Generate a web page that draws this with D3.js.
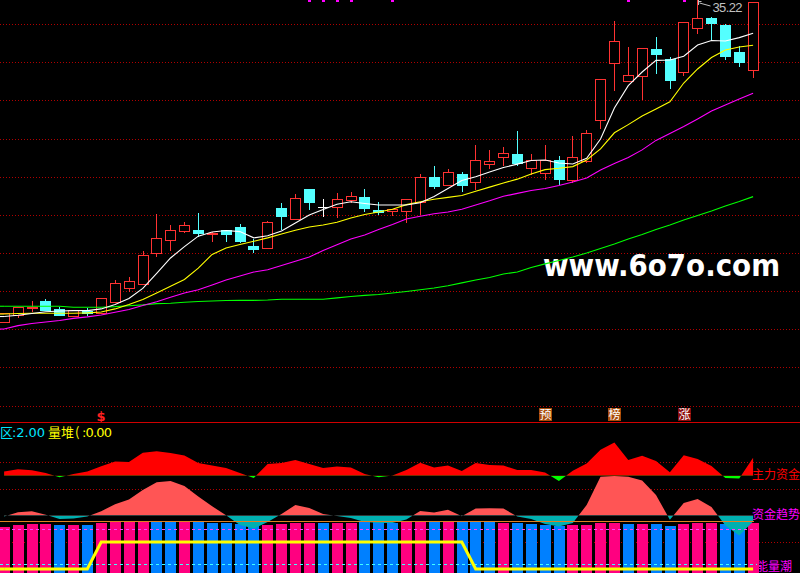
<!DOCTYPE html>
<html><head><meta charset="utf-8">
<script src="https://cdn.jsdelivr.net/npm/d3@7"></script>
<style>html,body{margin:0;padding:0;background:#000;overflow:hidden}svg{display:block}</style>
</head><body><svg id="c" width="800" height="573"></svg>
<script>
// ---------- DATA ----------
const opens  = [18.29,18.64,19.01,19.38,18.96,18.60,18.85,18.73,19.34,20.08,20.26,21.89,22.60,23.08,23.11,22.89,23.11,23.27,22.27,22.18,24.27,23.68,25.27,24.31,24.31,24.69,24.85,24.15,24.13,24.13,24.60,25.89,25.50,26.06,25.66,26.60,26.94,27.11,26.39,26.10,26.80,25.75,26.75,28.89,31.89,30.94,31.24,32.64,32.10,31.41,33.73,34.26,33.90,32.48,31.52];
const highs  = [18.73,19.05,19.38,19.47,19.08,18.90,18.99,19.52,20.48,20.63,22.01,23.96,23.38,23.52,24.03,23.00,23.11,23.43,22.64,23.59,24.55,25.01,25.27,24.75,25.08,25.11,25.27,24.59,24.24,24.73,26.06,26.48,26.31,26.17,27.59,27.33,27.48,28.33,27.11,27.59,27.01,28.06,28.38,31.05,34.11,32.75,32.68,33.27,32.20,34.05,35.22,34.34,33.96,32.80,35.10];
const lows   = [18.29,18.47,18.78,18.87,18.60,18.60,18.59,18.68,19.34,19.87,20.26,21.71,22.03,22.94,22.73,22.50,22.50,22.43,21.92,22.18,23.11,23.68,24.17,23.81,23.73,24.52,24.08,23.90,23.87,23.50,23.90,25.29,25.50,25.11,25.22,26.33,26.48,26.48,26.03,25.75,25.48,25.57,26.64,28.45,30.45,30.94,29.96,31.34,30.55,31.24,33.41,33.05,32.06,31.71,31.13];
const closes = [18.73,19.05,19.08,18.87,18.60,18.90,18.69,19.52,20.31,20.41,21.78,22.68,23.10,23.36,22.90,22.96,22.85,22.50,22.06,23.54,23.81,24.78,24.55,24.31,24.73,24.90,24.22,24.03,24.20,24.73,25.89,25.39,26.15,25.43,26.80,26.75,27.17,26.59,26.80,26.80,25.75,26.94,28.20,31.05,33.05,31.26,32.68,32.34,30.97,34.05,34.26,33.97,32.24,31.92,35.10];

const ma5  = [18.56,18.63,18.72,18.81,18.85,18.87,18.87,18.96,19.19,19.51,20.04,20.83,21.64,22.24,22.79,23.01,23.09,23.03,22.70,22.81,23.06,23.48,23.90,24.19,24.47,24.60,24.51,24.43,24.43,24.43,24.55,24.88,25.30,25.72,25.92,26.17,26.40,26.58,26.77,26.80,26.64,26.59,26.89,27.90,29.54,30.71,31.43,32.04,32.06,32.26,32.85,33.09,33.06,33.24,33.47];
const ma10 = [18.69,18.72,18.73,18.73,18.73,18.73,18.75,18.80,18.96,19.19,19.46,19.80,20.15,20.51,21.11,21.83,22.17,22.35,22.52,22.70,22.90,23.10,23.27,23.38,23.52,23.75,23.93,24.06,24.21,24.45,24.60,24.73,24.83,24.93,25.15,25.37,25.59,25.79,26.06,26.29,26.36,26.45,26.80,27.38,28.23,28.66,29.11,29.48,29.86,30.85,31.59,32.19,32.59,32.75,32.84];
const ma20 = [17.90,18.08,18.19,18.27,18.35,18.46,18.54,18.64,18.78,18.93,19.14,19.34,19.57,19.80,19.97,20.22,20.48,20.69,20.90,21.02,21.25,21.47,21.69,22.04,22.34,22.64,22.85,23.14,23.40,23.69,23.84,23.97,24.06,24.21,24.43,24.65,24.89,25.04,25.19,25.30,25.46,25.64,25.85,26.27,26.61,26.93,27.33,27.83,28.19,28.56,28.96,29.38,29.69,30.01,30.31];
const ma60 = [19.10,19.10,19.10,19.10,19.10,19.05,19.05,19.05,19.08,19.13,19.17,19.24,19.26,19.31,19.35,19.38,19.40,19.41,19.41,19.43,19.47,19.47,19.47,19.47,19.54,19.61,19.67,19.72,19.80,19.88,19.97,20.06,20.18,20.33,20.48,20.61,20.80,20.90,21.14,21.33,21.51,21.69,21.90,22.14,22.38,22.64,22.88,23.14,23.38,23.64,23.88,24.11,24.38,24.61,24.87];

const gridPrices = [33.94,31.94,29.94,27.89,25.89,23.89,21.89,19.89,17.89,15.89,13.87];
const highLabel = "35.22";
const topMarks = [22,23,24,25,28,45,49];
const signalIdx  = [7,39,44,49];
const signalText = ["$","预","榜","涨"];

const mainFund  = [4.2,6.4,5.4,2.7,-1.6,1.7,4.2,9.4,14.2,13.7,22.9,24.4,22.7,20.2,12.7,10.1,7.7,2.7,-2.3,11.7,12.7,15.7,11.7,7.7,9.2,8.2,1.7,-1.6,0.2,5.7,13,8.2,10.2,4.7,12.7,10.7,10.2,5.7,5.7,3.2,-5.3,4.9,12.2,26,33.1,15.7,19.9,14.7,3.4,20.5,16.7,9.7,-2.3,-2.8,18];
const fundTrend = [-1,3.3,4.2,0.8,-3.5,-3,-1,4.3,11.3,16,25.5,33.2,34.5,29.5,18.9,9.2,0.3,-9.5,-13,-6.5,1.5,10.5,7.5,1.5,-0.5,-2.5,-6.5,-7.5,-7.5,-4,4.5,3,5.7,-0.7,7,7.2,6.9,-1,-3.5,-8.5,-11,-7.5,10.5,38.8,39.5,38.7,35,20.5,-4.3,12.5,16.5,8.5,-10,-20,-6];
const energy    = [45.7,48,49,49,48,48,48,50.3,51.3,51.3,51.3,51.3,51.3,51.3,51.3,50.3,50.3,49,47.3,48,49,49.7,50.3,50.3,50.3,50.3,51.3,51.3,50.3,51.3,51.3,51.3,51.3,51.3,51.3,51.3,50.3,49.7,49,48,47,48,48,49.7,50.3,49,49,49,47,49,49.7,50.3,49,48,49.7];
const energyUp  = [1,1,1,1,0,1,0,1,1,1,1,0,0,1,0,0,0,0,0,1,1,1,1,0,1,1,0,0,0,1,1,0,1,0,0,0,1,0,0,0,0,1,1,1,1,0,1,0,0,1,1,1,0,0,1];
const tideLine  = [0,0,0,0,0,0,0,1,1,1,1,1,1,1,1,1,1,1,1,1,1,1,1,1,1,1,1,1,1,1,1,1,1,1,0,0,0,0,0,0,0,0,0,0,0,0,0,0,0,0,0,0,0,0,0];
const titleParts = ["区",":2.00","量堆","(",":0.00"];
const rightLabels = ["主力资金","资金趋势","能量潮"];
const watermark = "www.6o7o.com";

// ---------- SCALES ----------
const svg = d3.select("#c");
const W = 800, H = 573;
const idx = d3.range(opens.length);
const x = d3.scaleLinear().domain([0, 54]).range([4.1, 753.1]);
const yP = d3.scaleLinear().domain([17.85, 35.22]).range([330, 0]);
const yMF = d3.scaleLinear().domain([0, 40]).range([475.7, 435.7]);
const yFT = d3.scaleLinear().domain([0, 40]).range([515.5, 475.5]);
const yEN = d3.scaleLinear().domain([0, 60]).range([573, 513]);
const yTide = d3.scaleLinear().domain([0, 1]).range([569, 542]);
const px = v => Math.round(v) + 0.5;

svg.append("rect").attr("width", W).attr("height", H).attr("fill", "#000");

// ---------- MAIN PANEL ----------
const grid = svg.append("g").attr("shape-rendering", "crispEdges");
grid.selectAll("line").data(gridPrices).join("line")
  .attr("x1", 0).attr("x2", W)
  .attr("y1", d => px(yP(d))).attr("y2", d => px(yP(d)))
  .attr("stroke", "#b00000").attr("stroke-dasharray", "1,2");

// watermark
svg.append("text").attr("x", 543).attr("y", 276)
  .attr("font-family", "DejaVu Sans").attr("font-weight", "bold").attr("font-size", 30)
  .attr("fill", "#fff").attr("textLength", 237).attr("lengthAdjust", "spacingAndGlyphs")
  .text(watermark);

// candles
const cg = svg.append("g").attr("shape-rendering", "crispEdges");
const bw = 10;
idx.forEach(i => {
  const cx = x(i), o = opens[i], c = closes[i], h = highs[i], l = lows[i];
  const left = Math.round(cx - 5.3);
  const wx = left + 5.5;
  const top = Math.round(yP(Math.max(o, c))), bot = Math.round(yP(Math.min(o, c)));
  if (c > o) {
    const col = "#ff3232";
    cg.append("line").attr("x1", wx).attr("x2", wx).attr("y1", yP(h)).attr("y2", top).attr("stroke", col);
    cg.append("line").attr("x1", wx).attr("x2", wx).attr("y1", bot).attr("y2", yP(l)).attr("stroke", col);
    cg.append("rect").attr("x", left + 0.5).attr("y", top + 0.5).attr("width", bw)
      .attr("height", Math.max(1, bot - top)).attr("fill", "#000").attr("stroke", col);
  } else if (c < o) {
    const col = "#54ffff";
    cg.append("line").attr("x1", wx).attr("x2", wx).attr("y1", yP(h)).attr("y2", yP(l)).attr("stroke", col);
    cg.append("rect").attr("x", left).attr("y", top).attr("width", bw + 1)
      .attr("height", Math.max(2, bot - top)).attr("fill", col);
  } else {
    const col = "#ffffff";
    cg.append("line").attr("x1", wx).attr("x2", wx).attr("y1", yP(h)).attr("y2", yP(l)).attr("stroke", col);
    cg.append("line").attr("x1", left).attr("x2", left + bw + 1).attr("y1", px(yP(c))).attr("y2", px(yP(c))).attr("stroke", col);
  }
});

// moving averages
const maLine = arr => d3.line().x(i => x(i)).y(i => yP(arr[i]))(idx);
[[ma60, "#00ff00"], [ma20, "#ff00ff"], [ma10, "#ffff00"], [ma5, "#ffffff"]].forEach(([arr, col]) => {
  svg.append("path").attr("d", maLine(arr)).attr("fill", "none").attr("stroke", col)
    .attr("stroke-width", 1.1);
  svg.append("line").attr("x1", 0).attr("x2", x(0)).attr("y1", yP(arr[0])).attr("y2", yP(arr[0]))
    .attr("stroke", col).attr("stroke-width", 1.1);
});

// top marks
svg.append("g").selectAll("rect").data(topMarks).join("rect")
  .attr("x", i => Math.round(x(i)) - 1).attr("y", 0).attr("width", 3).attr("height", 2)
  .attr("fill", "#ff00ff");

// high label
const hi = d3.maxIndex(highs);
const hx = Math.round(x(hi)) + 0.5;
svg.append("path").attr("d", `M${hx},${yP(highs[hi])}V5M${hx},1.5H${hx + 3}M${hx + 1},3L${hx + 12},6`)
  .attr("stroke", "#c0c0c0").attr("fill", "none");
svg.append("text").attr("x", hx + 14).attr("y", 11.5).attr("font-family", "Liberation Sans")
  .attr("font-size", 13).attr("fill", "#c0c0c0").attr("textLength", 30).text(highLabel);

// signals
signalIdx.forEach((i, k) => {
  const cx = Math.round(x(i));
  const t = signalText[k];
  if (t === "$") {
    svg.append("text").attr("x", cx).attr("y", 421).attr("text-anchor", "middle")
      .attr("font-family", "DejaVu Sans").attr("font-weight", "bold").attr("font-size", 13)
      .attr("fill", "#ff2020").text(t);
  } else {
    svg.append("rect").attr("x", cx - 6).attr("y", 408).attr("width", 13).attr("height", 13)
      .attr("fill", t === "涨" ? "#8a0c0c" : "#a84a08");
    svg.append("text").attr("x", cx + 0.5).attr("y", 419).attr("text-anchor", "middle")
      .attr("font-family", "Noto Sans CJK SC").attr("font-size", 12).attr("fill", "#fff").text(t);
  }
});

// separator
svg.append("line").attr("x1", 0).attr("x2", W).attr("y1", 422.5).attr("y2", 422.5)
  .attr("stroke", "#d00000").attr("shape-rendering", "crispEdges");

// title
const tf = "Noto Sans CJK SC";
const title = svg.append("g").attr("font-size", 13);
title.append("text").attr("x", 0).attr("y", 437).attr("font-family", tf).attr("fill", "#00e8ff").text(titleParts[0]);
title.append("text").attr("x", 12).attr("y", 437).attr("font-family", "DejaVu Sans").attr("fill", "#00e8ff").attr("textLength", 33).text(titleParts[1]);
title.append("text").attr("x", 48).attr("y", 437).attr("font-family", tf).attr("fill", "#ffff00").text(titleParts[2]);
title.append("text").attr("x", 75).attr("y", 437).attr("font-family", tf).attr("fill", "#ffff00").text(titleParts[3]);
title.append("text").attr("x", 82).attr("y", 437).attr("font-family", "DejaVu Sans").attr("fill", "#ffff00").attr("textLength", 30).text(titleParts[4]);

// ---------- LOWER PANEL ----------
const lg = svg.append("g").attr("shape-rendering", "crispEdges");
[462, 489, 542].forEach(yy => lg.append("line").attr("x1", 0).attr("x2", W)
  .attr("y1", yy + 0.5).attr("y2", yy + 0.5).attr("stroke", "#b00000").attr("stroke-dasharray", "1,2"));

const defs = svg.append("defs");
function clip(id, y0, y1) {
  defs.append("clipPath").attr("id", id).append("rect").attr("x", 0).attr("y", y0).attr("width", W).attr("height", y1 - y0);
}
clip("mfPos", 0, yMF(0));
clip("mfNeg", yMF(0), H);
clip("ftPos", 0, yFT(0));
clip("ftNeg", yFT(0), H);

const mfArea = d3.area().x(i => x(i)).y0(yMF(0)).y1(i => yMF(mainFund[i]))(idx);
svg.append("path").attr("d", mfArea).attr("fill", "#ff0000").attr("clip-path", "url(#mfPos)");
svg.append("path").attr("d", mfArea).attr("fill", "#00ff00").attr("clip-path", "url(#mfNeg)");

const ftArea = d3.area().x(i => x(i)).y0(yFT(0)).y1(i => yFT(fundTrend[i]))(idx);
svg.append("path").attr("d", ftArea).attr("fill", "#ff5555").attr("clip-path", "url(#ftPos)");

// right labels (under bars)
const rl = svg.append("g").attr("font-family", "Noto Sans CJK SC").attr("font-size", 12);
rl.append("text").attr("x", 752).attr("y", 479).attr("fill", "#ff0000").text(rightLabels[0]);
rl.append("text").attr("x", 752).attr("y", 519).attr("fill", "#ff00ff").text(rightLabels[1]);
rl.append("text").attr("x", 756).attr("y", 571).attr("fill", "#ff00ff").text(rightLabels[2]);

// energy bars
svg.append("g").attr("shape-rendering", "crispEdges").selectAll("rect").data(idx).join("rect")
  .attr("x", i => Math.round(x(i) - 5.3)).attr("width", 11)
  .attr("y", i => Math.round(yEN(energy[i]))).attr("height", i => yEN(0) - Math.round(yEN(energy[i])))
  .attr("fill", i => energyUp[i] ? "#ff0080" : "#0080ff");

svg.append("path").attr("d", ftArea).attr("fill", "#00b0b0").attr("clip-path", "url(#ftNeg)");

const ln = svg.append("g").attr("shape-rendering", "crispEdges");
ln.append("line").attr("x1", 0).attr("x2", 754).attr("y1", 521.5).attr("y2", 521.5).attr("stroke", "#e08020");
ln.append("line").attr("x1", 0).attr("x2", 757).attr("y1", 529.5).attr("y2", 529.5).attr("stroke", "#ff40ff").attr("stroke-dasharray", "3,3");
ln.append("line").attr("x1", 0).attr("x2", 757).attr("y1", 564.5).attr("y2", 564.5).attr("stroke", "#40ffff").attr("stroke-dasharray", "3,3");

svg.append("path").attr("d", d3.line().x(i => x(i)).y(i => yTide(tideLine[i]))(idx))
  .attr("fill", "none").attr("stroke", "#ffff00").attr("stroke-width", 3);
svg.append("line").attr("x1", 0).attr("x2", x(0)).attr("y1", yTide(tideLine[0])).attr("y2", yTide(tideLine[0]))
  .attr("stroke", "#ffff00").attr("stroke-width", 3);
</script></body></html>
